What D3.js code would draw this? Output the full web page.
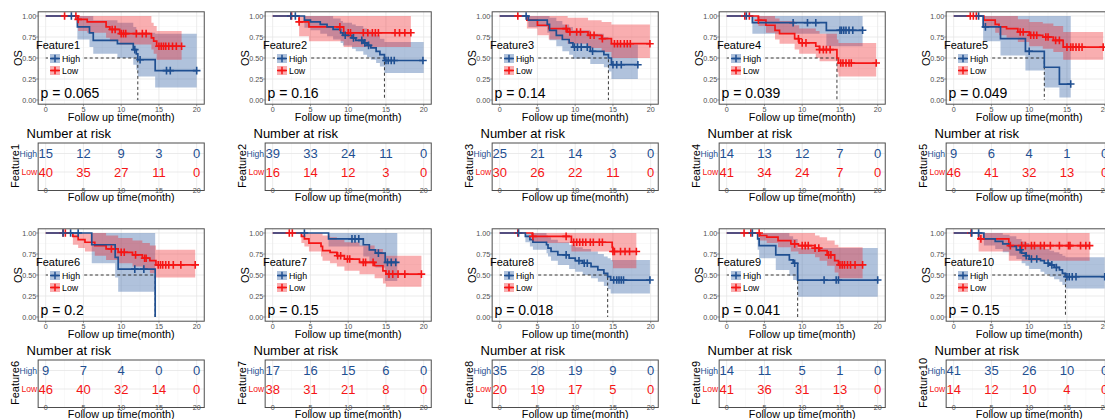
<!DOCTYPE html>
<html>
<head>
<meta charset="utf-8">
<script src="https://cdn.jsdelivr.net/npm/d3@7"></script>
<style>
body { margin: 0; background: #fff; font-family: "Liberation Sans", Arial, sans-serif; }
</style>
</head>
<body>
<svg id="chart" width="1105" height="419"></svg>
<script>
// data
const features = ["Feature1", "Feature2", "Feature3", "Feature4", "Feature5",
                  "Feature6", "Feature7", "Feature8", "Feature9", "Feature10"];
const pValues = ["0.065", "0.16", "0.14", "0.039", "0.049", "0.2", "0.15", "0.018", "0.041", "0.15"];
const timeTicks = [0, 5, 10, 15, 20];
const survTicks = [0, 0.25, 0.5, 0.75, 1];
const survLabels = ["0.00", "0.25", "0.50", "0.75", "1.00"];
const groups = ["High", "Low"];

const riskHigh = [[15,12,9,3,0],[39,33,24,11,0],[25,21,14,3,0],[14,13,12,7,0],[9,6,4,1,0],
                  [9,7,4,0,0],[17,16,15,6,0],[35,28,19,9,0],[14,11,5,1,0],[41,35,26,10,0]];
const riskLow  = [[40,35,27,11,0],[16,14,12,3,0],[30,26,22,11,0],[41,34,24,7,0],[46,41,32,13,0],
                  [46,40,32,14,0],[38,31,21,8,0],[20,19,17,5,0],[41,36,31,13,0],[14,12,10,4,0]];

// [time, survival, lower, upper] at each drop
const highCurves = [
  [[4.2,0.87,0.72,1],[5.8,0.80,0.63,1],[6.3,0.71,0.55,0.95],[9.5,0.67,0.50,0.92],[11.6,0.60,0.42,0.87],[12.0,0.55,0.36,0.83],[12.2,0.48,0.28,0.80],[14.5,0.35,0.15,0.79]],
  [[4.2,0.95,0.86,1],[5.0,0.93,0.83,1],[6.3,0.90,0.79,1],[7.2,0.87,0.76,1],[8.0,0.84,0.72,0.97],[9.0,0.80,0.68,0.94],[9.3,0.77,0.65,0.92],[10.5,0.74,0.61,0.90],[11.0,0.71,0.58,0.88],[12.0,0.68,0.54,0.85],[12.5,0.65,0.51,0.83],[13.0,0.62,0.48,0.80],[13.7,0.58,0.44,0.77],[14.2,0.54,0.40,0.73],[14.8,0.47,0.32,0.69]],
  [[3.8,0.95,0.87,1],[6.3,0.90,0.80,1],[6.6,0.83,0.71,0.98],[7.5,0.77,0.64,0.94],[8.3,0.72,0.58,0.90],[9.2,0.68,0.54,0.87],[9.7,0.63,0.49,0.83],[12.0,0.58,0.43,0.79],[13.8,0.54,0.39,0.75],[14.4,0.50,0.34,0.72],[14.8,0.42,0.25,0.66]],
  [[3.4,0.92,0.79,1],[13.2,0.83,0.64,1]],
  [[3.9,0.87,0.70,1],[6.2,0.73,0.53,1],[9.5,0.58,0.35,1],[12.0,0.39,0.15,1],[14.0,0.19,0.03,1]],
  [[6.1,0.86,0.64,1],[9.2,0.71,0.47,1],[9.6,0.57,0.30,1],[14.5,0,0,0]],
  [[7.4,0.93,0.84,1],[12.0,0.86,0.72,1],[12.8,0.80,0.65,1],[13.6,0.76,0.59,1],[14.9,0.65,0.43,1]],
  [[3.4,0.96,0.89,1],[4.0,0.92,0.84,1],[4.4,0.89,0.80,1],[6.2,0.86,0.76,0.97],[6.4,0.82,0.72,0.95],[6.8,0.78,0.67,0.92],[7.7,0.74,0.62,0.89],[9.2,0.70,0.57,0.86],[10.0,0.67,0.54,0.83],[11.0,0.64,0.50,0.81],[12.1,0.60,0.46,0.78],[13.0,0.56,0.42,0.75],[13.8,0.52,0.37,0.72],[14.3,0.48,0.33,0.70],[14.7,0.44,0.28,0.68]],
  [[4.1,0.93,0.80,1],[4.3,0.85,0.70,1],[6.5,0.74,0.56,1],[8.3,0.68,0.49,0.96],[8.8,0.64,0.44,0.93],[9.4,0.44,0.24,0.82]],
  [[4.0,0.93,0.85,1],[5.5,0.90,0.81,1],[6.5,0.87,0.77,0.98],[7.4,0.84,0.73,0.96],[8.3,0.80,0.69,0.93],[9.0,0.76,0.64,0.90],[9.5,0.73,0.61,0.88],[10.0,0.69,0.57,0.85],[11.5,0.67,0.54,0.83],[12.0,0.64,0.51,0.81],[12.7,0.62,0.48,0.79],[13.3,0.59,0.45,0.77],[14.0,0.56,0.42,0.75],[14.4,0.52,0.38,0.73],[14.8,0.48,0.34,0.71]]
];
const highEnd = [20, 20, 18.3, 18, 15.5, 14.5, 16.5, 19.9, 20, 20];
const highCensor = [
  [3.4,11.8,12.5,16,16.5,20],
  [2.4,3.0,9.6,10.7,11.8,12.2,12.7,15.0,15.3,15.7,16.1,19.9],
  [3.5,9.9,10.3,10.8,11.6,12.3,15.0,15.5,16.1,18.3],
  [2.6,8.8,10.7,11.8,15.0,15.2,15.5,15.8,16.2,16.7,18.0],
  [3.3,4.2,10.0,15.5],
  [2.3,3.3,4.3,11.8,13.0],
  [4.2,10.5,10.9,11.4,14.0,15.2,15.7,16.3],
  [2.5,8.8,10.5,11.2,11.6,15.1,15.5,15.8,16.1,16.4,19.9],
  [3.4,9.0,12.9,14.5,14.8,20.0],
  [2.4,3.3,8.8,9.6,10.3,11.0,12.5,13.0,13.6,15.0,15.3,15.7,16.2,20]
];

const lowCurves = [
  [[4.3,0.96,0.82,1],[5.5,0.93,0.80,1],[8.0,0.87,0.74,1],[8.5,0.84,0.70,1],[9.8,0.79,0.66,1],[14.0,0.74,0.60,0.92],[14.3,0.70,0.55,0.88],[14.7,0.64,0.48,0.82]],
  [[3.5,0.93,0.76,1],[4.8,0.87,0.70,1],[9.4,0.80,0.63,1]],
  [[3.6,0.95,0.85,1],[5.0,0.89,0.77,1],[6.5,0.85,0.72,1],[9.0,0.81,0.67,0.98],[11.7,0.77,0.62,0.95],[13.5,0.73,0.57,0.93],[14.8,0.67,0.50,0.90]],
  [[4.2,0.95,0.88,1],[5.2,0.89,0.80,1],[6.4,0.83,0.72,0.97],[7.0,0.79,0.67,0.94],[9.0,0.73,0.60,0.89],[9.6,0.68,0.55,0.85],[11.8,0.64,0.50,0.82],[12.3,0.60,0.46,0.79],[14.6,0.50,0.33,0.72],[14.8,0.44,0.28,0.68]],
  [[4.0,0.95,0.87,1],[5.5,0.90,0.80,1],[6.0,0.87,0.77,1],[7.0,0.85,0.74,1],[8.5,0.81,0.69,0.96],[10.0,0.77,0.64,0.93],[11.8,0.75,0.61,0.91],[13.2,0.71,0.57,0.88],[14.5,0.63,0.48,0.81]],
  [[3.6,0.96,0.86,1],[4.3,0.92,0.82,1],[5.2,0.89,0.78,1],[6.5,0.85,0.73,1],[8.0,0.81,0.68,0.97],[9.6,0.77,0.64,0.94],[11.5,0.74,0.60,0.91],[12.8,0.70,0.56,0.88],[13.8,0.67,0.52,0.85],[14.6,0.62,0.47,0.80]],
  [[3.8,0.96,0.88,1],[4.2,0.93,0.84,1],[4.8,0.88,0.78,1],[6.4,0.84,0.72,1],[6.6,0.79,0.67,0.97],[7.6,0.77,0.64,0.95],[8.5,0.73,0.60,0.92],[9.5,0.69,0.55,0.89],[11.5,0.65,0.51,0.85],[13.5,0.61,0.46,0.81],[14.6,0.55,0.40,0.77],[15.0,0.51,0.36,0.73]],
  [[4.3,0.96,0.88,1],[9.5,0.89,0.78,1],[14.9,0.83,0.66,1],[15.0,0.78,0.58,1]],
  [[4.4,0.97,0.91,1],[5.3,0.95,0.88,1],[6.8,0.91,0.83,1],[8.5,0.87,0.78,1],[9.5,0.85,0.75,1],[11.7,0.82,0.71,0.97],[12.3,0.79,0.67,0.95],[13.3,0.74,0.61,0.91],[14.3,0.67,0.53,0.86],[14.8,0.62,0.46,0.83]],
  [[3.3,0.93,0.78,1],[7.3,0.85,0.67,1]]
];
const lowEnd = [18, 18.3, 19.9, 19.8, 19.8, 19.8, 19.7, 18.1, 18, 18];
const lowCensor = [
  [2.5,4.0,4.3,8.8,9.2,10.0,10.3,10.6,12.0,12.8,13.3,15.0,15.3,15.6,15.9,16.3,16.8,17.3,18],
  [2.5,3.5,8.9,10.0,10.3,12.0,12.6,13.2,13.6,14.0,16.2,16.8,17.5,18.3],
  [2.4,8.8,9.3,10.2,10.7,12.0,12.5,13.6,15.2,15.6,16.0,16.5,16.9,17.3,19.9],
  [2.4,3.0,4.2,9.5,10.0,10.5,12.3,12.8,13.2,13.7,15.1,15.4,15.8,16.2,16.5,19.8],
  [2.2,2.6,3.0,8.8,9.2,10.2,10.6,11.0,12.2,12.5,13.5,14.0,15.0,15.5,15.8,16.2,16.6,17.0,19.8],
  [2.3,2.6,8.7,10.0,10.4,11.9,13.1,13.3,14.9,15.2,15.5,15.9,16.3,16.9,17.9,19.8],
  [2.2,2.6,8.6,9.0,9.9,10.2,12.0,12.3,13.3,15.4,15.9,16.6,17.5,19.7],
  [2.4,4.4,8.8,9.8,10.2,10.6,11.0,11.4,12.0,12.4,13.2,13.6,15.0,15.2,16.0,16.6,17.2,18.1],
  [2.3,3.2,4.3,9.0,10.0,10.4,10.8,11.7,12.2,13.5,13.8,15.0,15.3,15.6,16.0,16.4,17.0,18.0],
  [2.3,3.6,7.5,9.0,9.5,10.3,10.7,11.5,12.0,12.8,14.0,15.2,15.4,16.8,17.5,18.0]
];

// barvy skupin
const colHigh = "#1f4f91";
const colLow = "#f51515";
const fillHigh = "rgba(40,90,160,0.37)";
const fillLow = "rgba(240,35,40,0.37)";

const svg = d3.select("#chart");
const colStep = 227, rowStep = 217;

// spolecne meritko pro vsechny panely (relativni souradnice)
const x = d3.scaleLinear().domain([0, 20]).range([45.7, 196.7]);
const y = d3.scaleLinear().domain([0, 1]).range([100, 16]);

const stepLine = d3.line().curve(d3.curveStepAfter).x(d => x(d[0])).y(d => y(d[1]));
const ciArea = d3.area().curve(d3.curveStepAfter)
    .x(d => x(d[0])).y0(d => y(d[2])).y1(d => y(d[3]));

function fullPoints(steps, end) {
    const pts = [[0, 1, 1, 1]].concat(steps);
    const last = pts[pts.length - 1];
    pts.push([end, last[1], last[2], last[3]]);
    return pts;
}

function survAt(steps, t) {
    let s = 1;
    steps.forEach(d => { if (d[0] <= t) s = d[1]; });
    return s;
}

const cross = "M-3.8,0H3.8M0,-3.8V3.8";

features.forEach((name, i) => {
    const col = i % 5, row = Math.floor(i / 5);
    const g = svg.append("g").attr("transform", `translate(${col * colStep},${row * rowStep})`);

    const px0 = x(-1), px1 = x(21), py0 = y(1.05), py1 = y(-0.05);

    // ---- KM graf ----
    const grid = g.append("g");
    [2.5, 7.5, 12.5, 17.5].forEach(t => grid.append("line").attr("x1", x(t)).attr("x2", x(t))
        .attr("y1", py0).attr("y2", py1).attr("stroke", "#f2f2f2").attr("stroke-width", 0.5));
    [0.125, 0.375, 0.625, 0.875].forEach(s => grid.append("line").attr("x1", px0).attr("x2", px1)
        .attr("y1", y(s)).attr("y2", y(s)).attr("stroke", "#f2f2f2").attr("stroke-width", 0.5));
    timeTicks.forEach(t => grid.append("line").attr("x1", x(t)).attr("x2", x(t))
        .attr("y1", py0).attr("y2", py1).attr("stroke", "#e6e6e6").attr("stroke-width", 0.8));
    survTicks.forEach(s => grid.append("line").attr("x1", px0).attr("x2", px1)
        .attr("y1", y(s)).attr("y2", y(s)).attr("stroke", "#e6e6e6").attr("stroke-width", 0.8));

    const hi = fullPoints(highCurves[i], highEnd[i]);
    const lo = fullPoints(lowCurves[i], lowEnd[i]);

    g.append("path").attr("d", ciArea(hi)).attr("fill", fillHigh);
    g.append("path").attr("d", ciArea(lo)).attr("fill", fillLow);

    // median
    [highCurves[i], lowCurves[i]].forEach(steps => {
        const m = steps.find(d => d[1] <= 0.5);
        if (m) {
            g.append("path")
                .attr("d", `M${x(0)},${y(0.5)}H${x(m[0])}V${y(0)}`)
                .attr("fill", "none").attr("stroke", "#222").attr("stroke-width", 0.9)
                .attr("stroke-dasharray", "3,2.5");
        }
    });

    g.append("path").attr("d", stepLine(lo)).attr("fill", "none")
        .attr("stroke", colLow).attr("stroke-width", 1.7);
    g.append("path").attr("d", stepLine(hi)).attr("fill", "none")
        .attr("stroke", colHigh).attr("stroke-width", 1.7);

    lowCensor[i].forEach(t => g.append("path").attr("d", cross)
        .attr("transform", `translate(${x(t)},${y(survAt(lowCurves[i], t))})`)
        .attr("stroke", colLow).attr("stroke-width", 1.6));
    highCensor[i].forEach(t => g.append("path").attr("d", cross)
        .attr("transform", `translate(${x(t)},${y(survAt(highCurves[i], t))})`)
        .attr("stroke", colHigh).attr("stroke-width", 1.6));

    // ramecek
    g.append("rect").attr("x", px0).attr("y", py0).attr("width", px1 - px0).attr("height", py1 - py0)
        .attr("fill", "none").attr("stroke", "#4d4d4d").attr("stroke-width", 1);

    // osy
    timeTicks.forEach(t => {
        g.append("line").attr("x1", x(t)).attr("x2", x(t)).attr("y1", py1).attr("y2", py1 + 2)
            .attr("stroke", "#555").attr("stroke-width", 0.6);
        g.append("text").attr("x", x(t)).attr("y", 111.5).attr("text-anchor", "middle")
            .attr("font-size", 7.2).attr("fill", "#4d4d4d").text(t);
    });
    survTicks.forEach((s, k) => {
        g.append("line").attr("x1", px0 - 2).attr("x2", px0).attr("y1", y(s)).attr("y2", y(s))
            .attr("stroke", "#555").attr("stroke-width", 0.6);
        g.append("text").attr("x", px0 - 2).attr("y", y(s) + 2.5).attr("text-anchor", "end")
            .attr("font-size", 7.2).attr("fill", "#4d4d4d").text(survLabels[k]);
    });
    g.append("text").attr("x", (x(0) + x(20)) / 2).attr("y", 120.5).attr("text-anchor", "middle")
        .attr("font-size", 10.8).attr("fill", "#000").text("Follow up time(month)");
    g.append("text").attr("transform", `translate(21.5,58) rotate(-90)`).attr("text-anchor", "middle")
        .attr("font-size", 11).attr("fill", "#000").text("OS");

    // legenda
    g.append("rect").attr("x", 48).attr("y", 52.5).attr("width", 34).attr("height", 23.5).attr("fill", "#fff");
    g.append("text").attr("x", 36).attr("y", 49).attr("font-size", 11).text(name);
    groups.forEach((grp, k) => {
        const ky = 54 + k * 12;
        g.append("rect").attr("x", 50).attr("y", ky).attr("width", 10).attr("height", 9)
            .attr("fill", k === 0 ? fillHigh : fillLow);
        g.append("line").attr("x1", 50).attr("x2", 60).attr("y1", ky + 4.5).attr("y2", ky + 4.5)
            .attr("stroke", k === 0 ? colHigh : colLow).attr("stroke-width", 1.5);
        g.append("path").attr("d", cross).attr("transform", `translate(55,${ky + 4.5})`)
            .attr("stroke", k === 0 ? colHigh : colLow).attr("stroke-width", 1.5);
        g.append("text").attr("x", 62).attr("y", ky + 7.5).attr("font-size", 8.8).text(grp);
    });

    g.append("text").attr("x", 40.5).attr("y", 97.5).attr("font-size", 14).text("p = " + pValues[i]);

    // ---- tabulka poctu v riziku ----
    const t0 = 143, t1 = 190.5;
    const rowY = [153.5, 172];
    g.append("text").attr("x", 26.5).attr("y", 137.5).attr("font-size", 13).text("Number at risk");
    const tg = g.append("g");
    [2.5, 7.5, 12.5, 17.5].forEach(t => tg.append("line").attr("x1", x(t)).attr("x2", x(t))
        .attr("y1", t0).attr("y2", t1).attr("stroke", "#f2f2f2").attr("stroke-width", 0.5));
    timeTicks.forEach(t => tg.append("line").attr("x1", x(t)).attr("x2", x(t))
        .attr("y1", t0).attr("y2", t1).attr("stroke", "#e6e6e6").attr("stroke-width", 0.8));
    rowY.forEach(ry => tg.append("line").attr("x1", px0).attr("x2", px1)
        .attr("y1", ry).attr("y2", ry).attr("stroke", "#e6e6e6").attr("stroke-width", 0.8));

    [riskHigh[i], riskLow[i]].forEach((vals, k) => {
        vals.forEach((v, j) => {
            g.append("text").attr("x", x(timeTicks[j])).attr("y", rowY[k] + 4.6)
                .attr("text-anchor", "middle").attr("font-size", 13)
                .attr("fill", k === 0 ? colHigh : colLow).text(v);
        });
        g.append("text").attr("x", px0 - 1).attr("y", rowY[k] + 3).attr("text-anchor", "end")
            .attr("font-size", 8.6).attr("fill", k === 0 ? colHigh : colLow).text(groups[k]);
    });
    g.append("rect").attr("x", px0).attr("y", t0).attr("width", px1 - px0).attr("height", t1 - t0)
        .attr("fill", "none").attr("stroke", "#4d4d4d").attr("stroke-width", 1);
    timeTicks.forEach(t => {
        g.append("text").attr("x", x(t)).attr("y", 193).attr("text-anchor", "middle")
            .attr("font-size", 7.2).attr("fill", "#4d4d4d").text(t);
    });
    g.append("text").attr("transform", `translate(19,166) rotate(-90)`).attr("text-anchor", "middle")
        .attr("font-size", 11).text(name);
    g.append("text").attr("x", (x(0) + x(20)) / 2).attr("y", 200.5).attr("text-anchor", "middle")
        .attr("font-size", 10.8).text("Follow up time(month)");
});
</script>
</body>
</html>
